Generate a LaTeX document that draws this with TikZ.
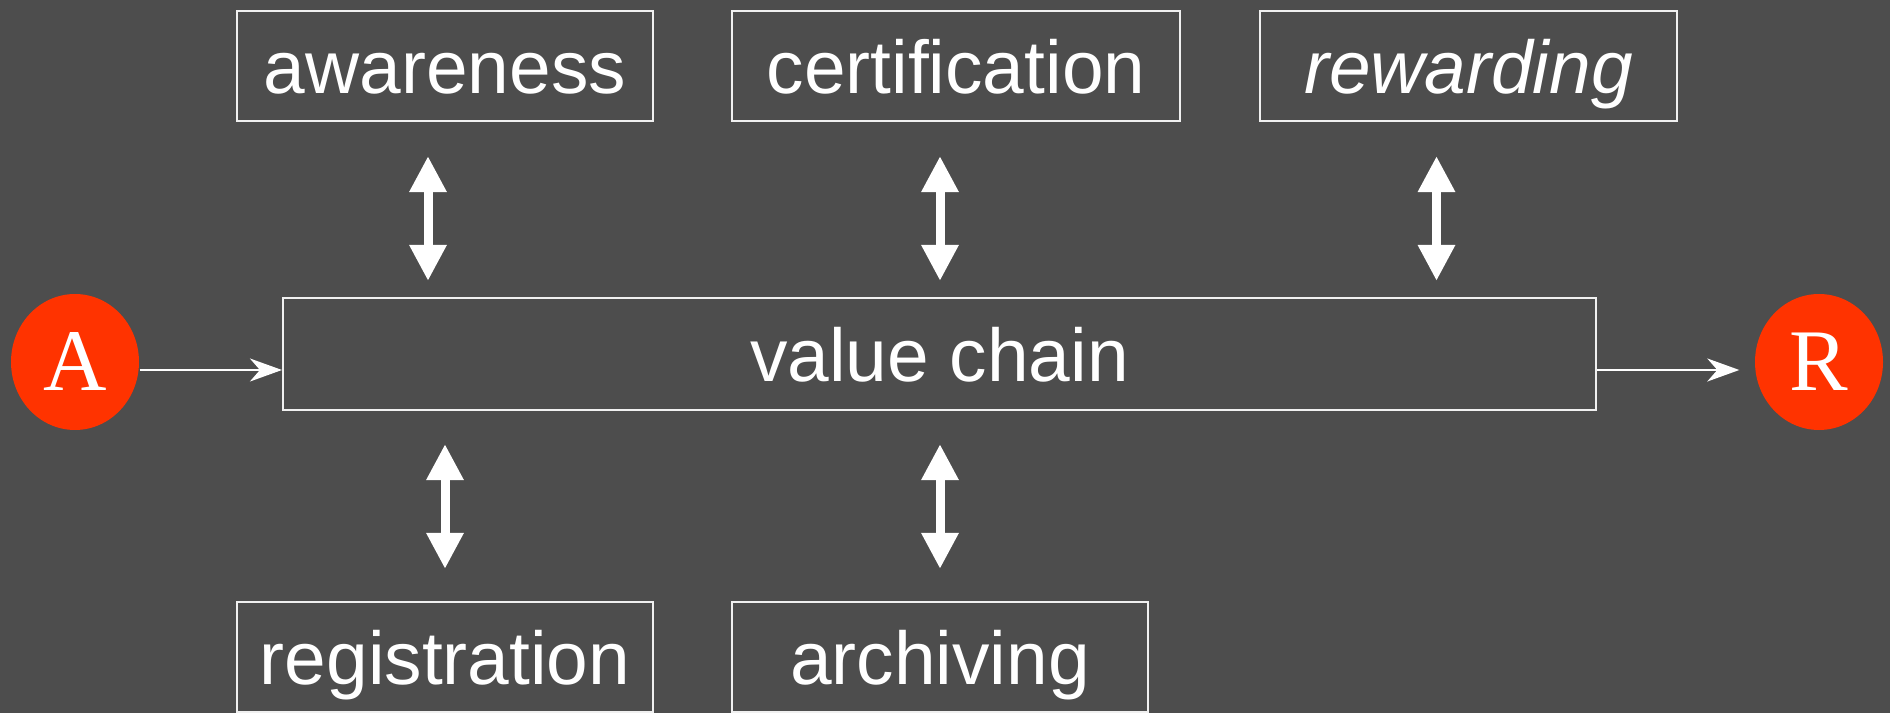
\documentclass[tikz,border=0pt]{standalone}
\usepackage{fontspec}
\setmainfont{Liberation Serif}
\setsansfont{Liberation Sans}
\usetikzlibrary{calc,arrows.meta,shapes.geometric}
\definecolor{slide}{RGB}{77,77,77}
\definecolor{mark}{RGB}{255,51,0}
\begin{document}
\begin{tikzpicture}[
    stage/.style={draw=white!94!black,line width=0.6pt,inner sep=0pt,text=white,
      font=\sffamily\fontsize{21.3}{25}\selectfont,text height=0.55cm,text depth=0pt,minimum height=1.1cm},
    actor/.style={ellipse,fill=mark,inner sep=0pt,minimum width=1.28cm,minimum height=1.36cm,
      text=white,font=\rmfamily\fontsize{25}{30}\selectfont},
    flow/.style={draw=white,line width=0.6pt,-{Stealth[length=3.2mm,width=2.3mm,inset=1mm]}},
    link/.style={draw=white,line width=0.9mm,{Triangle[length=3.6mm,width=3.5mm]}-{Triangle[length=3.6mm,width=3.5mm]}}]
      \useasboundingbox[fill=slide] (0,0) rectangle (18.9,7.13);
      %    top row
      \foreach \n/\x/\w/\t in {aw/4.45/4.16/awareness,ce/9.56/4.48/certification,rw/14.685/4.17/\itshape rewarding}
        \node[stage,minimum width=\w cm] (\n) at (\x,6.47) {\t};
      \node[stage,minimum width=13.13cm,minimum height=1.12cm] (vc) at (9.395,3.59) {value chain};
      %    bottom row
      \foreach \n/\x/\t in {rg/4.45/registration,ar/9.40/archiving}
        \node[stage,minimum width=4.16cm] (\n) at (\x,0.56) {\t};
      \node[actor] (A) at (0.75,3.51) {A};
      \node[actor] (R) at (18.19,3.51) {R};
      \draw[flow] ([yshift=-0.8mm]A.east) -- ([yshift=-0.8mm]A.east -| vc.west);
      \draw[flow,shorten >=1.5mm] ([yshift=-0.8mm]R.west -| vc.east) -- ([yshift=-0.8mm]R.west);
      \foreach \n/\dx in {aw/-1.7mm,ce/-1.6mm,rw/-3.2mm}
        \draw[link,shorten <=3.4mm,shorten >=1.6mm] ([xshift=\dx]\n.south) -- ([xshift=\dx]\n.south |- vc.north);
      \foreach \n/\dx in {rg/0mm,ar/0mm}
        \draw[link,shorten <=3.2mm,shorten >=3.3mm] ([xshift=\dx]\n.north) -- ([xshift=\dx]\n.north |- vc.south);
    \end{tikzpicture}
\end{document}
